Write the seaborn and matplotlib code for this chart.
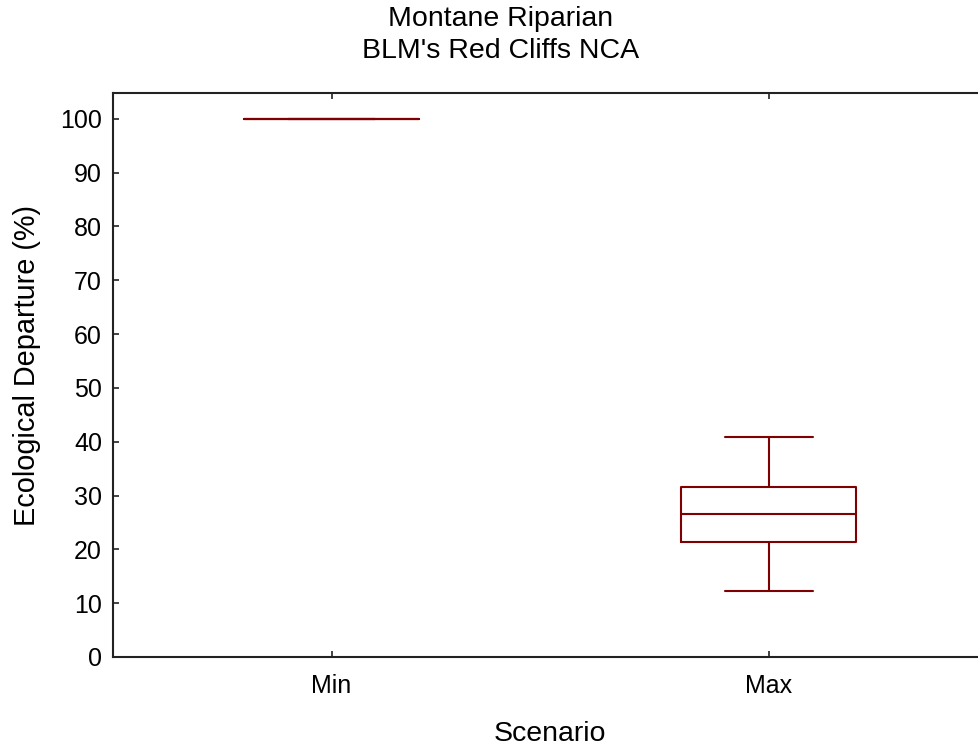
import matplotlib
matplotlib.use("Agg")
import matplotlib.pyplot as plt
import seaborn as sns
import pandas as pd

scenarios = ["Min", "Max"]
min_values = [100, 100, 100, 100, 100]
max_values = [12.3, 21.4, 26.6, 31.6, 40.8]
yticks = [0, 10, 20, 30, 40, 50, 60, 70, 80, 90, 100]

df = pd.DataFrame({
    "Scenario": ["Min"] * len(min_values) + ["Max"] * len(max_values),
    "Value": min_values + max_values,
})

sns.set_theme(style="ticks")
plt.rcParams["font.family"] = ["Liberation Sans", "DejaVu Sans"]
plt.rcParams["text.color"] = "black"
plt.rcParams["axes.labelcolor"] = "black"
plt.rcParams["xtick.color"] = "black"
plt.rcParams["ytick.color"] = "black"

fig = plt.figure(figsize=(9.79, 7.47), dpi=100)
ax = fig.add_axes([113 / 979, 1 - 657 / 747, (987.5 - 113) / 979, (657 - 93) / 747])

color = "#7f0000"
sns.boxplot(data=df, x="Scenario", y="Value", order=scenarios, ax=ax,
            width=0.4, fill=False, color=color, linewidth=1.5,
            whis=1.5, showfliers=False)

ax.set_xlim(-0.5, 1.5)
ax.set_ylim(0, 104.8)
ax.set_yticks(yticks)
ax.tick_params(direction="in", length=4, width=1.2, labelsize=18, color="#222222")
ax.tick_params(axis="y", pad=8)
ax.tick_params(axis="x", pad=12)
ax.tick_params(top=True, right=True)
for s in ax.spines.values():
    s.set_visible(True)
    s.set_linewidth(1.5)
    s.set_color("#222222")

ax.set_xlabel("Scenario", fontsize=20.5, labelpad=17)
ax.set_ylabel("Ecological Departure (%)", fontsize=20.8)
ax.yaxis.set_label_coords(-0.0825, (657 - 366) / (657 - 93))
fig.suptitle("Montane Riparian\nBLM's Red Cliffs NCA", fontsize=20.5, x=501 / 979,
             y=1 - 6 / 747, va="top", linespacing=1.3)

fig.savefig("out.png", dpi=100)
